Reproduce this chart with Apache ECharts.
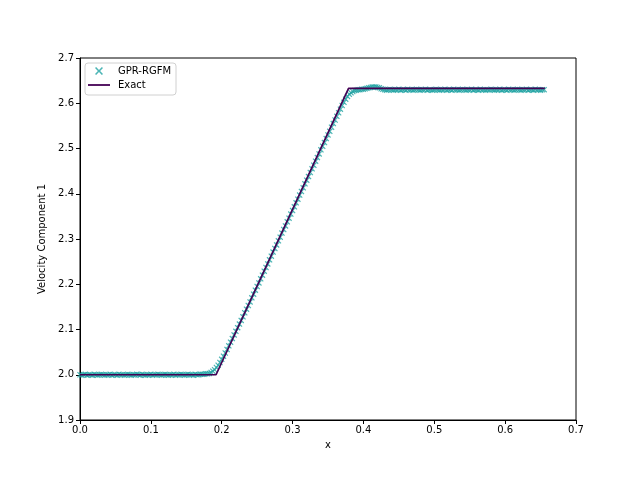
<!DOCTYPE html>
<html><head><meta charset="utf-8">
<script src="https://cdn.jsdelivr.net/npm/echarts@6/dist/echarts.min.js"></script>
<style>html,body{margin:0;padding:0;background:#fff}#c{width:640px;height:480px}</style>
</head><body><div id="c"></div>
<script>
// GPR-RGFM sample points
const gprX = [
0.0000,0.0025,0.0050,0.0075,0.0100,0.0125,0.0150,0.0175,0.0200,0.0225,
0.0250,0.0275,0.0300,0.0325,0.0350,0.0375,0.0400,0.0425,0.0450,0.0475,
0.0500,0.0525,0.0550,0.0575,0.0600,0.0625,0.0650,0.0675,0.0700,0.0725,
0.0750,0.0775,0.0800,0.0825,0.0850,0.0875,0.0900,0.0925,0.0950,0.0975,
0.1000,0.1025,0.1050,0.1075,0.1100,0.1125,0.1150,0.1175,0.1200,0.1225,
0.1250,0.1275,0.1300,0.1325,0.1350,0.1375,0.1400,0.1425,0.1450,0.1475,
0.1500,0.1525,0.1550,0.1575,0.1600,0.1625,0.1650,0.1675,0.1700,0.1725,
0.1750,0.1775,0.1800,0.1825,0.1850,0.1875,0.1900,0.1925,0.1950,0.1975,
0.2000,0.2025,0.2050,0.2075,0.2100,0.2125,0.2150,0.2175,0.2200,0.2225,
0.2250,0.2275,0.2300,0.2325,0.2350,0.2375,0.2400,0.2425,0.2450,0.2475,
0.2500,0.2525,0.2550,0.2575,0.2600,0.2625,0.2650,0.2675,0.2700,0.2725,
0.2750,0.2775,0.2800,0.2825,0.2850,0.2875,0.2900,0.2925,0.2950,0.2975,
0.3000,0.3025,0.3050,0.3075,0.3100,0.3125,0.3150,0.3175,0.3200,0.3225,
0.3250,0.3275,0.3300,0.3325,0.3350,0.3375,0.3400,0.3425,0.3450,0.3475,
0.3500,0.3525,0.3550,0.3575,0.3600,0.3625,0.3650,0.3675,0.3700,0.3725,
0.3750,0.3775,0.3800,0.3825,0.3850,0.3875,0.3900,0.3925,0.3950,0.3975,
0.4000,0.4025,0.4050,0.4075,0.4100,0.4125,0.4150,0.4175,0.4200,0.4225,
0.4250,0.4275,0.4300,0.4325,0.4350,0.4375,0.4400,0.4425,0.4450,0.4475,
0.4500,0.4525,0.4550,0.4575,0.4600,0.4625,0.4650,0.4675,0.4700,0.4725,
0.4750,0.4775,0.4800,0.4825,0.4850,0.4875,0.4900,0.4925,0.4950,0.4975,
0.5000,0.5025,0.5050,0.5075,0.5100,0.5125,0.5150,0.5175,0.5200,0.5225,
0.5250,0.5275,0.5300,0.5325,0.5350,0.5375,0.5400,0.5425,0.5450,0.5475,
0.5500,0.5525,0.5550,0.5575,0.5600,0.5625,0.5650,0.5675,0.5700,0.5725,
0.5750,0.5775,0.5800,0.5825,0.5850,0.5875,0.5900,0.5925,0.5950,0.5975,
0.6000,0.6025,0.6050,0.6075,0.6100,0.6125,0.6150,0.6175,0.6200,0.6225,
0.6250,0.6275,0.6300,0.6325,0.6350,0.6375,0.6400,0.6425,0.6450,0.6475,
0.6500,0.6525,0.6550];
const gprY = [
2.000,1.999,2.000,2.001,1.999,2.000,2.000,1.999,2.001,2.000,
1.999,2.000,2.001,2.000,1.999,2.000,2.000,2.001,1.999,2.000,
2.000,1.999,2.001,2.000,2.000,1.999,2.000,2.001,2.000,1.999,
2.000,2.000,2.001,2.000,1.999,2.001,2.000,1.999,2.000,2.000,
2.001,1.999,2.000,2.000,2.001,2.000,1.999,2.000,2.001,2.000,
1.999,2.000,2.000,2.001,1.999,2.000,2.000,2.001,2.000,1.999,
2.000,2.001,2.000,2.000,1.999,2.001,2.000,2.000,2.001,2.001,
2.001,2.002,2.002,2.003,2.005,2.008,2.011,2.016,2.021,2.027,
2.034,2.041,2.048,2.056,2.064,2.072,2.080,2.088,2.096,2.104,
2.112,2.120,2.128,2.137,2.145,2.153,2.161,2.170,2.178,2.187,
2.195,2.203,2.212,2.220,2.229,2.237,2.245,2.254,2.262,2.271,
2.279,2.287,2.296,2.304,2.313,2.321,2.329,2.338,2.346,2.355,
2.363,2.371,2.380,2.388,2.397,2.405,2.413,2.422,2.430,2.438,
2.447,2.455,2.463,2.472,2.480,2.488,2.497,2.505,2.513,2.522,
2.530,2.538,2.547,2.555,2.563,2.571,2.579,2.587,2.595,2.602,
2.609,2.615,2.620,2.623,2.626,2.628,2.629,2.630,2.630,2.631,
2.631,2.632,2.633,2.634,2.635,2.636,2.636,2.636,2.635,2.634,
2.632,2.631,2.630,2.629,2.630,2.631,2.630,2.629,2.630,2.630,
2.631,2.629,2.630,2.630,2.629,2.631,2.630,2.630,2.629,2.630,
2.631,2.630,2.629,2.630,2.630,2.631,2.629,2.630,2.630,2.629,
2.630,2.631,2.630,2.629,2.630,2.630,2.631,2.629,2.630,2.630,
2.629,2.631,2.630,2.630,2.629,2.630,2.631,2.630,2.629,2.630,
2.630,2.631,2.629,2.630,2.630,2.629,2.631,2.630,2.630,2.629,
2.630,2.630,2.631,2.630,2.629,2.630,2.630,2.631,2.629,2.630,
2.630,2.629,2.631,2.630,2.630,2.629,2.630,2.631,2.630,2.629,
2.630,2.630,2.631,2.629,2.630,2.630,2.629,2.631,2.630,2.630,
2.629,2.630,2.630];
// Exact solution breakpoints
const exactX = [0.000, 0.192, 0.379, 0.656];
const exactY = [2.000, 2.000, 2.633, 2.633];
const xTicks = [0.0, 0.7, 0.1];
const yTicks = [1.9, 2.7, 0.1];

const crossPath = 'path://M0,1.4L1.4,0L5,3.6L8.6,0L10,1.4L6.4,5L10,8.6L8.6,10L5,6.4L1.4,10L0,8.6L3.6,5Z';
const linePath = 'path://M0,0L22,0L22,1.8L0,1.8Z';
const font = 'DejaVu Sans';
const chart = echarts.init(document.getElementById('c'), null, {renderer:'canvas'});
chart.setOption({
  animation:false,
  backgroundColor:'#fff',
  textStyle:{fontFamily:font},
  grid:{left:80,right:64,top:58,bottom:60,show:true,borderColor:'#000',borderWidth:1,backgroundColor:'transparent'},
  legend:{
    left:85, top:63, orient:'vertical',
    backgroundColor:'#fff', borderColor:'#d0d0d0', borderWidth:1, borderRadius:3,
    padding:[3,5,5,3], itemGap:4, itemWidth:22, itemHeight:8,
    textStyle:{fontFamily:font,fontSize:10,color:'#000',padding:[0,0,0,3]},
    data:[{name:'GPR-RGFM', icon:crossPath}, {name:'Exact', icon:linePath}]
  },
  xAxis:{
    type:'value', min:xTicks[0], max:xTicks[1], interval:xTicks[2],
    name:'x', nameLocation:'middle', nameGap:20,
    nameTextStyle:{fontFamily:font,fontSize:10,color:'#000'},
    axisLine:{show:true,onZero:false,lineStyle:{color:'#000',width:1}},
    axisTick:{show:true,length:4,lineStyle:{color:'#000'}},
    axisLabel:{fontFamily:font,fontSize:10,color:'#000',margin:5,formatter:v=>v.toFixed(1)},
    splitLine:{show:false}
  },
  yAxis:{
    type:'value', min:yTicks[0], max:yTicks[1], interval:yTicks[2],
    name:'Velocity Component 1', nameLocation:'middle', nameGap:29,
    nameTextStyle:{fontFamily:font,fontSize:10,color:'#000'},
    axisLine:{show:true,onZero:false,lineStyle:{color:'#000',width:1}},
    axisTick:{show:true,length:4,lineStyle:{color:'#000'}},
    axisLabel:{fontFamily:font,fontSize:10,color:'#000',margin:6,formatter:v=>v.toFixed(1)},
    splitLine:{show:false}
  },
  series:[
    {name:'GPR-RGFM', type:'scatter', symbol:crossPath, symbolSize:6,
     itemStyle:{color:'#1fa3a3'},
     data:gprX.map((x,i)=>[x,gprY[i]]), z:2},
    {name:'Exact', type:'line', showSymbol:false, symbol:'none',
     lineStyle:{color:'#440154',width:1.7}, itemStyle:{color:'#440154'},
     data:exactX.map((x,i)=>[x,exactY[i]]), z:3}
  ]
});
</script></body></html>
